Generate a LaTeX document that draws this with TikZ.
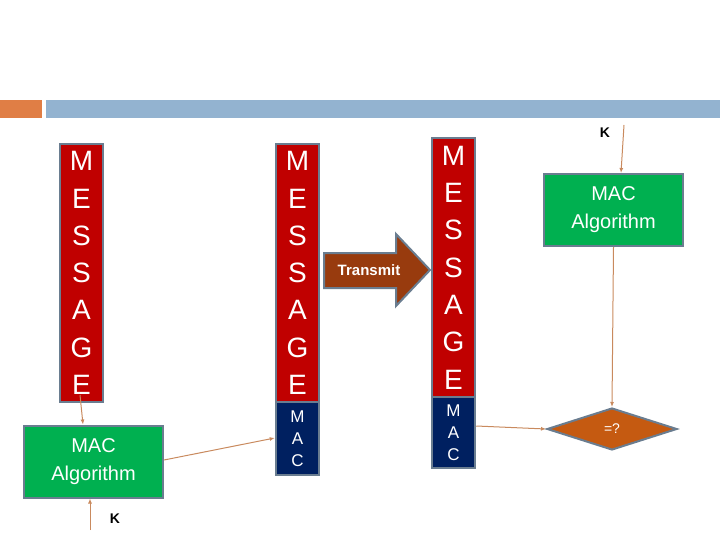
\documentclass[tikz,border=0pt]{standalone}
\usepackage{fontspec}
\setmainfont{Liberation Sans}
\usetikzlibrary{shapes.geometric,arrows.meta}
\definecolor{msgred}{HTML}{C00000}
\definecolor{macnavy}{HTML}{002060}
\definecolor{algreen}{HTML}{00B050}
\definecolor{bord}{HTML}{6A7D90}
\definecolor{conn}{HTML}{C98A5E}
\definecolor{txbrown}{HTML}{983B0E}
\definecolor{diam}{HTML}{C55A11}
\definecolor{barblue}{HTML}{93B3D0}
\definecolor{barorange}{HTML}{E07E45}
\begin{document}
\begin{tikzpicture}[x=1pt,y=-1pt,
  msg/.style={draw=bord,line width=2.5pt,fill=msgred,text=white,minimum width=43pt,inner sep=0pt,align=center,font=\fontsize{28}{37.3}\selectfont},
  mac/.style={draw=bord,line width=2.5pt,fill=macnavy,text=white,minimum width=43pt,inner sep=0pt,align=center,font=\fontsize{17}{22}\selectfont},
  alg/.style={draw=bord,line width=2pt,fill=algreen,text=white,minimum width=139pt,minimum height=72pt,align=center,inner sep=0pt,font=\fontsize{20}{28}\selectfont},
  conline/.style={draw=conn,line width=1pt,-{Latex[length=5pt,width=4pt]}},
  keylbl/.style={font=\bfseries\fontsize{14}{16}\selectfont}]
\useasboundingbox (0,0) rectangle (720,540);
\fill[barorange] (0,100) rectangle (42,118);
\fill[barblue] (46,100) rectangle (720,118);
% left column
\node[msg,minimum height=258pt] (m1) at (81.5,273) {M\\E\\S\\S\\A\\G\\E};
\node[alg] (a1) at (93.5,461.5) {MAC\\Algorithm};
\coordinate (k1) at (90,530);
\node[keylbl] (kl1) at (115,519) {K};
\draw[conline] (80,395) -- (a1.north -| 83,0);
\draw[conline] (k1) -- (a1.south -| k1);
% middle column
\node[msg,minimum height=258pt] (m2) at (297.5,273) {M\\E\\S\\S\\A\\G\\E};
\node[mac,minimum height=73pt] (c2) at (297.5,438.5) {M\\A\\C};
\draw[conline] (a1.east |- 0,460) -- (c2.west |- 0,438);
\draw[draw=bord,line width=2pt,fill=txbrown] (324,253) -- (396,253) -- (396,234) -- (430,270) -- (396,306) -- (396,288) -- (324,288) -- cycle;
\node[text=white,font=\bfseries\fontsize{15}{17}\selectfont] (tx) at (369,270) {Transmit};
% right column
\node[msg,minimum height=259pt] (m3) at (453.5,267.5) {M\\E\\S\\S\\A\\G\\E};
\node[mac,minimum height=71pt] (c3) at (453.5,432.5) {M\\A\\C};
\node[diamond,draw=bord,line width=2pt,fill=diam,text=white,minimum width=130pt,minimum height=42pt,aspect=3.1,inner sep=0pt,font=\fontsize{14}{16}\selectfont] (d) at (612,429) {=?};
\draw[conline] (c3.east |- 0,426) -- (d.west);
\node[alg] (a2) at (613.5,210) {MAC\\Algorithm};
\node[keylbl] (kl2) at (605,133) {K};
\coordinate (k2) at (624,125);
\draw[conline] (k2) -- (a2.north -| 621,0);
\draw[conline] (a2.south) -- (d.north);
\end{tikzpicture}
\end{document}
